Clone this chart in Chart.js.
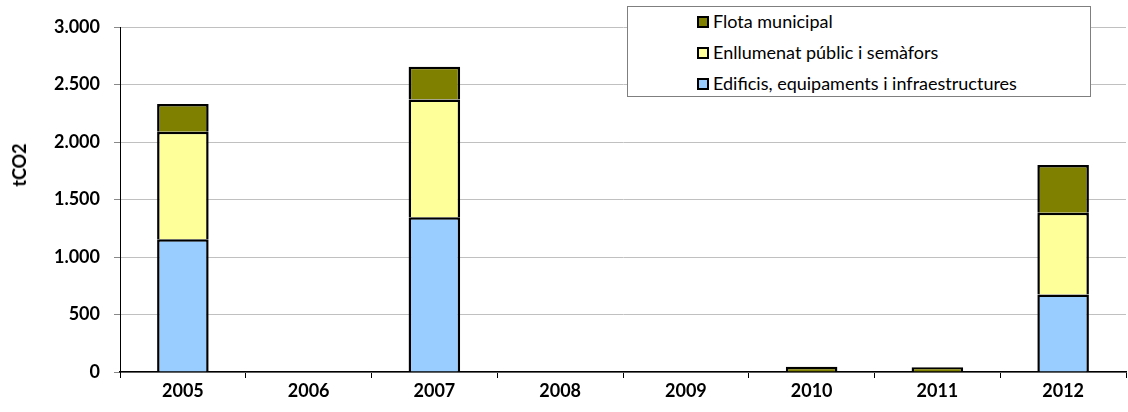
<!DOCTYPE html>
<html>
<head>
<meta charset="utf-8">
<script src="https://cdn.jsdelivr.net/npm/chart.js@4.4.1/dist/chart.umd.min.js"></script>
<style>
	body { margin: 0; background: #fff; }
	.wrap { position: relative; width: 1128px; height: 412px; }
	#legend {
		position: absolute; left: 627px; top: 6px; width: 464px; height: 91px;
		border: 1px solid #7f7f7f; background: #fff; box-sizing: border-box;
		font-family: Lato, sans-serif; font-size: 18px; color: #000;
		padding: 4px 0 0 69px; white-space: nowrap;
	}
	#legend div { height: 31px; line-height: 20px; }
	#legend span.box {
		display: inline-block; width: 8px; height: 8px; border: 2px solid #000;
		margin-right: 4px; vertical-align: 0px;
	}
	#ytitle {
		position: absolute; left: 19px; top: 165px; transform: translate(-50%, -50%) rotate(-90deg);
		font-family: Lato, sans-serif; font-weight: bold; font-size: 18px; color: #000;
	}
</style>
</head>
<body>
<div class="wrap">
	<canvas id="myChart" width="1128" height="412"></canvas>
	<div id="legend"></div>
	<div id="ytitle">tCO2</div>
</div>
<script>
	// values (tCO2)
	const years = ['2005', '2006', '2007', '2008', '2009', '2010', '2011', '2012'];
	const edificis = [1155, 0, 1345, 0, 0, 0, 0, 675];
	const enllumenat = [935, 0, 1025, 0, 0, 0, 0, 710];
	const flota = [240, 0, 285, 0, 0, 45, 42, 415];
	const yTicks = [0, 500, 1000, 1500, 2000, 2500, 3000];

	function fmt(v)
	{
		return v.toString().replace(/\B(?=(\d{3})+(?!\d))/g, '.');
	}

	const datasets = [{
		label: 'Edificis, equipaments i infraestructures',
		data: edificis,
		backgroundColor: '#99CCFF'
	}, {
		label: 'Enllumenat públic i semàfors',
		data: enllumenat,
		backgroundColor: '#FFFF99'
	}, {
		label: 'Flota municipal',
		data: flota,
		backgroundColor: '#808000'
	}];
	datasets.forEach(d => {
		d.borderColor = '#000';
		d.borderWidth = 2.5;
		d.barPercentage = 0.41;
		d.categoryPercentage = 1;
	});

	const tickFont = { family: 'Lato, sans-serif', size: 18, weight: 'bold' };

	var ctx = document.getElementById('myChart').getContext('2d');
	var myChart = new Chart(ctx, {
		type: 'bar',
		data: { labels: years, datasets: datasets },
		options: {
			responsive: false,
			animation: false,
			layout: { padding: { top: 27, right: 2, left: 0, bottom: 0 } },
			plugins: {
				legend: { display: false },
				tooltip: { enabled: false }
			},
			scales: {
				x: {
					stacked: true,
					grid: { drawOnChartArea: false, tickLength: 6, color: '#000' },
					border: { color: '#000', width: 1.5 },
					ticks: { color: '#000', padding: 2, font: tickFont },
					afterFit: s => { s.height = 40; }
				},
				y: {
					stacked: true,
					min: 0, max: 3000,
					afterBuildTicks: s => { s.ticks = yTicks.map(v => ({ value: v })); },
					grid: { color: '#c0c0c0', tickLength: 6, tickColor: '#888' },
					border: { color: '#000', width: 1 },
					ticks: { color: '#000', padding: 14, font: tickFont, callback: v => fmt(v) },
					afterFit: s => { s.width = 120; }
				}
			}
		}
	});

	// legend in reverse order, like the original
	const lg = document.getElementById('legend');
	datasets.slice().reverse().forEach(d => {
		const row = document.createElement('div');
		row.innerHTML = '<span class="box" style="background:' + d.backgroundColor + '"></span>' + d.label;
		lg.appendChild(row);
	});
</script>
</body>
</html>
